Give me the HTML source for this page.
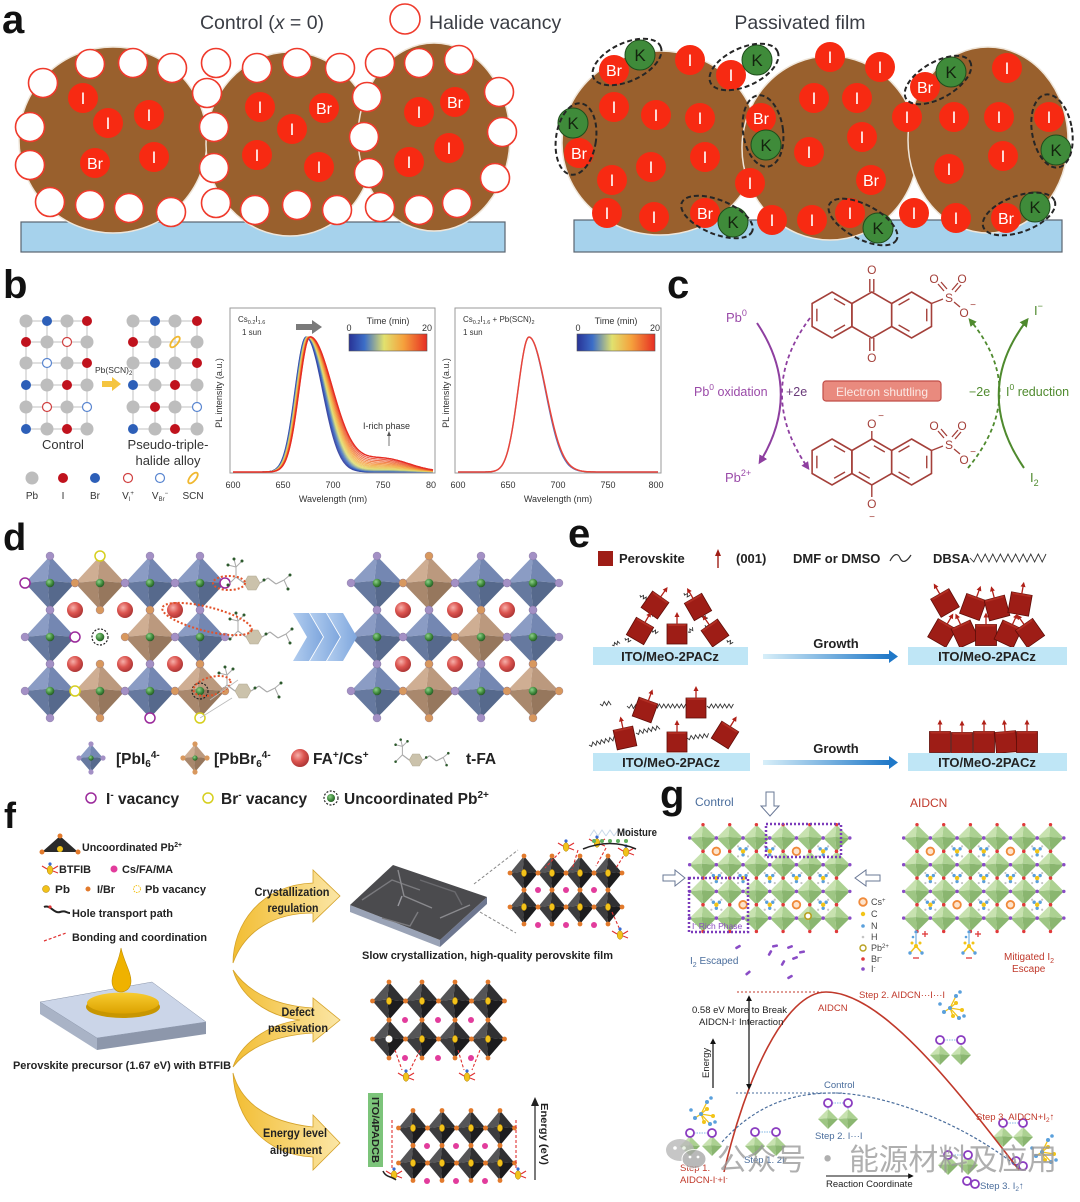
<!DOCTYPE html>
<html><head><meta charset="utf-8"><title>figure</title>
<style>
html,body{margin:0;padding:0;background:#fff;width:1080px;height:1202px;overflow:hidden}
svg{display:block}
text{font-family:"Liberation Sans","Noto Sans CJK SC",sans-serif}
.L{font-size:40px;font-weight:bold;fill:#111}
.vc{fill:#fff;stroke:#ef3a2c;stroke-width:1.6}
.rd{fill:#f72a12}
.kk{fill:#3f8b3a;stroke:#1f4d1c;stroke-width:1}
.at{font-size:17px;fill:#fff;text-anchor:middle}
.ab{font-size:16px;fill:#fff;text-anchor:middle}
.kt{font-size:17px;fill:#14240f;text-anchor:middle}
.de{fill:none;stroke:#262626;stroke-width:2;stroke-dasharray:5,3}
.bt{font-weight:bold;fill:#222}
.mo{font-size:12px;fill:#a4403a;text-anchor:middle}
</style></head>
<body>
<svg id="s" width="1080" height="1202" viewBox="0 0 1080 1202" xmlns="http://www.w3.org/2000/svg">
<defs>
<linearGradient id="cbar" x1="0" x2="1" y1="0" y2="0">
<stop offset="0" stop-color="#283296"/><stop offset="0.2" stop-color="#3c6ec8"/><stop offset="0.45" stop-color="#e1e16e"/><stop offset="0.7" stop-color="#f5a03c"/><stop offset="1" stop-color="#e62d23"/>
</linearGradient>
<radialGradient id="rs" cx="0.38" cy="0.35" r="0.7"><stop offset="0" stop-color="#f6b0aa"/><stop offset="0.5" stop-color="#dc5550"/><stop offset="1" stop-color="#a83232"/></radialGradient>
<radialGradient id="gs" cx="0.38" cy="0.35" r="0.7"><stop offset="0" stop-color="#8fd08a"/><stop offset="0.6" stop-color="#3f8a3c"/><stop offset="1" stop-color="#225522"/></radialGradient>
<linearGradient id="gold" x1="0" x2="1" y1="0" y2="0"><stop offset="0" stop-color="#f2bd32"/><stop offset="1" stop-color="#fbe6a6"/></linearGradient>
<linearGradient id="barw" x1="0" x2="1" y1="0" y2="0"><stop offset="0" stop-color="#d8eff9"/><stop offset="1" stop-color="#1f78c8"/></linearGradient>
<linearGradient id="chev" x1="0" x2="1" y1="0" y2="0"><stop offset="0" stop-color="#b2cdef"/><stop offset="1" stop-color="#7ea6dd"/></linearGradient>
<linearGradient id="pud" x1="0" x2="0" y1="0" y2="1"><stop offset="0" stop-color="#f8cc30"/><stop offset="1" stop-color="#dca200"/></linearGradient>
<marker id="mp" viewBox="0 0 10 10" refX="7" refY="5" markerWidth="4.5" markerHeight="4.5" orient="auto"><path d="M0,0 L10,5 L0,10 z" fill="#8e3fa0"/></marker>
<marker id="mg" viewBox="0 0 10 10" refX="7" refY="5" markerWidth="4.5" markerHeight="4.5" orient="auto"><path d="M0,0 L10,5 L0,10 z" fill="#4f8a2e"/></marker>
<marker id="mk" viewBox="0 0 10 10" refX="7" refY="5" markerWidth="5" markerHeight="5" orient="auto-start-reverse"><path d="M0,0 L10,5 L0,10 z" fill="#111"/></marker>
</defs>

<!-- ================= PANEL A ================= -->
<text x="2" y="33" class="L">a</text>
<text x="262" y="29" font-size="19.5" fill="#3a3d44" text-anchor="middle">Control (<tspan font-style="italic">x</tspan> = 0)</text>
<circle cx="405" cy="19" r="15" class="vc"/>
<text x="429" y="29" font-size="19.5" fill="#3a3d44">Halide vacancy</text>
<text x="800" y="29" font-size="19.5" fill="#3a3d44" text-anchor="middle">Passivated film</text>

<rect x="21" y="222" width="484" height="30" fill="#a6d2ec" stroke="#5a6470" stroke-width="1.2"/>
<g fill="#99602d" stroke="#efe6da" stroke-width="1.5">
<ellipse cx="113" cy="140" rx="94" ry="93"/>
<ellipse cx="290" cy="144" rx="84" ry="92"/>
<ellipse cx="434" cy="137" rx="76" ry="94"/>
</g>
<g class="vcg">
<circle cx="43" cy="83" r="14.5" class="vc"/><circle cx="90" cy="64" r="14.5" class="vc"/><circle cx="133" cy="63" r="14.5" class="vc"/><circle cx="172" cy="68" r="14.5" class="vc"/>
<circle cx="30" cy="127" r="14.5" class="vc"/><circle cx="30" cy="165" r="14.5" class="vc"/><circle cx="50" cy="202" r="14.5" class="vc"/><circle cx="90" cy="205" r="14.5" class="vc"/>
<circle cx="129" cy="208" r="14.5" class="vc"/><circle cx="171" cy="212" r="14.5" class="vc"/><circle cx="207" cy="93" r="14.5" class="vc"/>
<circle cx="216" cy="63" r="14.5" class="vc"/><circle cx="257" cy="68" r="14.5" class="vc"/><circle cx="297" cy="63" r="14.5" class="vc"/><circle cx="340" cy="68" r="14.5" class="vc"/>
<circle cx="214" cy="127" r="14.5" class="vc"/><circle cx="214" cy="168" r="14.5" class="vc"/><circle cx="216" cy="203" r="14.5" class="vc"/><circle cx="255" cy="210" r="14.5" class="vc"/>
<circle cx="297" cy="205" r="14.5" class="vc"/><circle cx="337" cy="210" r="14.5" class="vc"/>
<circle cx="380" cy="63" r="14.5" class="vc"/><circle cx="419" cy="63" r="14.5" class="vc"/><circle cx="459" cy="60" r="14.5" class="vc"/><circle cx="367" cy="97" r="14.5" class="vc"/>
<circle cx="364" cy="137" r="14.5" class="vc"/><circle cx="369" cy="173" r="14.5" class="vc"/><circle cx="380" cy="207" r="14.5" class="vc"/><circle cx="419" cy="210" r="14.5" class="vc"/>
<circle cx="457" cy="203" r="14.5" class="vc"/><circle cx="499" cy="92" r="14.5" class="vc"/><circle cx="502" cy="132" r="14.5" class="vc"/><circle cx="495" cy="178" r="14.5" class="vc"/>
</g>
<g>
<circle cx="83" cy="98" r="15" class="rd"/><text x="83" y="104" class="at">I</text>
<circle cx="108" cy="123" r="15" class="rd"/><text x="108" y="129" class="at">I</text>
<circle cx="149" cy="115" r="15" class="rd"/><text x="149" y="121" class="at">I</text>
<circle cx="95" cy="163" r="15" class="rd"/><text x="95" y="169" class="ab">Br</text>
<circle cx="154" cy="157" r="15" class="rd"/><text x="154" y="163" class="at">I</text>
<circle cx="260" cy="107" r="15" class="rd"/><text x="260" y="113" class="at">I</text>
<circle cx="324" cy="108" r="15" class="rd"/><text x="324" y="114" class="ab">Br</text>
<circle cx="292" cy="129" r="15" class="rd"/><text x="292" y="135" class="at">I</text>
<circle cx="257" cy="155" r="15" class="rd"/><text x="257" y="161" class="at">I</text>
<circle cx="319" cy="167" r="15" class="rd"/><text x="319" y="173" class="at">I</text>
<circle cx="419" cy="112" r="15" class="rd"/><text x="419" y="118" class="at">I</text>
<circle cx="455" cy="102" r="15" class="rd"/><text x="455" y="108" class="ab">Br</text>
<circle cx="449" cy="148" r="15" class="rd"/><text x="449" y="154" class="at">I</text>
<circle cx="409" cy="162" r="15" class="rd"/><text x="409" y="168" class="at">I</text>
</g>

<rect x="574" y="220" width="488" height="32" fill="#a6d2ec" stroke="#5a6470" stroke-width="1.2"/>
<g fill="#99602d" stroke="#efe6da" stroke-width="1.5">
<ellipse cx="660" cy="143" rx="98" ry="92"/>
<ellipse cx="830" cy="148" rx="88" ry="92"/>
<ellipse cx="988" cy="140" rx="80" ry="93"/>
</g>
<g>
<circle cx="614" cy="70" r="15" class="rd"/><text x="614" y="76" class="ab">Br</text>
<circle cx="640" cy="55" r="15" class="kk"/><text x="640" y="61" class="kt">K</text>
<circle cx="690" cy="60" r="15" class="rd"/><text x="690" y="66" class="at">I</text>
<circle cx="731" cy="75" r="15" class="rd"/><text x="731" y="81" class="at">I</text>
<circle cx="757" cy="60" r="15" class="kk"/><text x="757" y="66" class="kt">K</text>
<circle cx="614" cy="107" r="15" class="rd"/><text x="614" y="113" class="at">I</text>
<circle cx="656" cy="115" r="15" class="rd"/><text x="656" y="121" class="at">I</text>
<circle cx="700" cy="118" r="15" class="rd"/><text x="700" y="124" class="at">I</text>
<circle cx="573" cy="123" r="15" class="kk"/><text x="573" y="129" class="kt">K</text>
<circle cx="579" cy="153" r="15" class="rd"/><text x="579" y="159" class="ab">Br</text>
<circle cx="705" cy="157" r="15" class="rd"/><text x="705" y="163" class="at">I</text>
<circle cx="651" cy="167" r="15" class="rd"/><text x="651" y="173" class="at">I</text>
<circle cx="612" cy="180" r="15" class="rd"/><text x="612" y="186" class="at">I</text>
<circle cx="607" cy="213" r="15" class="rd"/><text x="607" y="219" class="at">I</text>
<circle cx="654" cy="217" r="15" class="rd"/><text x="654" y="223" class="at">I</text>
<circle cx="705" cy="213" r="15" class="rd"/><text x="705" y="219" class="ab">Br</text>
<circle cx="733" cy="222" r="15" class="kk"/><text x="733" y="228" class="kt">K</text>
<circle cx="761" cy="118" r="15" class="rd"/><text x="761" y="124" class="ab">Br</text>
<circle cx="766" cy="145" r="15" class="kk"/><text x="766" y="151" class="kt">K</text>
<circle cx="750" cy="183" r="15" class="rd"/><text x="750" y="189" class="at">I</text>
<circle cx="772" cy="220" r="15" class="rd"/><text x="772" y="226" class="at">I</text>
<circle cx="830" cy="57" r="15" class="rd"/><text x="830" y="63" class="at">I</text>
<circle cx="880" cy="67" r="15" class="rd"/><text x="880" y="73" class="at">I</text>
<circle cx="814" cy="98" r="15" class="rd"/><text x="814" y="104" class="at">I</text>
<circle cx="857" cy="98" r="15" class="rd"/><text x="857" y="104" class="at">I</text>
<circle cx="809" cy="152" r="15" class="rd"/><text x="809" y="158" class="at">I</text>
<circle cx="862" cy="137" r="15" class="rd"/><text x="862" y="143" class="at">I</text>
<circle cx="871" cy="180" r="15" class="rd"/><text x="871" y="186" class="ab">Br</text>
<circle cx="812" cy="220" r="15" class="rd"/><text x="812" y="226" class="at">I</text>
<circle cx="850" cy="213" r="15" class="rd"/><text x="850" y="219" class="at">I</text>
<circle cx="878" cy="228" r="15" class="kk"/><text x="878" y="234" class="kt">K</text>
<circle cx="907" cy="117" r="15" class="rd"/><text x="907" y="123" class="at">I</text>
<circle cx="914" cy="213" r="15" class="rd"/><text x="914" y="219" class="at">I</text>
<circle cx="925" cy="87" r="15" class="rd"/><text x="925" y="93" class="ab">Br</text>
<circle cx="951" cy="72" r="15" class="kk"/><text x="951" y="78" class="kt">K</text>
<circle cx="1007" cy="68" r="15" class="rd"/><text x="1007" y="74" class="at">I</text>
<circle cx="954" cy="117" r="15" class="rd"/><text x="954" y="123" class="at">I</text>
<circle cx="999" cy="117" r="15" class="rd"/><text x="999" y="123" class="at">I</text>
<circle cx="1049" cy="117" r="15" class="rd"/><text x="1049" y="123" class="at">I</text>
<circle cx="1056" cy="150" r="15" class="kk"/><text x="1056" y="156" class="kt">K</text>
<circle cx="949" cy="169" r="15" class="rd"/><text x="949" y="175" class="at">I</text>
<circle cx="1003" cy="156" r="15" class="rd"/><text x="1003" y="162" class="at">I</text>
<circle cx="956" cy="218" r="15" class="rd"/><text x="956" y="224" class="at">I</text>
<circle cx="1006" cy="218" r="15" class="rd"/><text x="1006" y="224" class="ab">Br</text>
<circle cx="1035" cy="207" r="15" class="kk"/><text x="1035" y="213" class="kt">K</text>
</g>
<g>
<ellipse cx="627" cy="62" rx="37" ry="19" transform="rotate(-25 627 62)" class="de"/>
<ellipse cx="744" cy="67" rx="37" ry="19" transform="rotate(-25 744 67)" class="de"/>
<ellipse cx="576" cy="139" rx="20" ry="36" transform="rotate(8 576 139)" class="de"/>
<ellipse cx="763" cy="131" rx="20" ry="36" transform="rotate(-8 763 131)" class="de"/>
<ellipse cx="717" cy="217" rx="38" ry="17" transform="rotate(22 717 217)" class="de"/>
<ellipse cx="863" cy="222" rx="38" ry="17" transform="rotate(28 863 222)" class="de"/>
<ellipse cx="938" cy="80" rx="37" ry="18" transform="rotate(-30 938 80)" class="de"/>
<ellipse cx="1052" cy="131" rx="20" ry="37" transform="rotate(-10 1052 131)" class="de"/>
<ellipse cx="1019" cy="214" rx="38" ry="18" transform="rotate(-20 1019 214)" class="de"/>
</g>

<!-- ================= PANEL B ================= -->
<text x="3" y="298" class="L">b</text>
<g id="gb"></g>
<text x="95" y="373" font-size="8.5" fill="#333">Pb(SCN)<tspan font-size="6" dy="2">2</tspan></text>
<text x="63" y="449" font-size="13" fill="#333" text-anchor="middle">Control</text>
<text x="168" y="449" font-size="13" fill="#333" text-anchor="middle">Pseudo-triple-</text>
<text x="168" y="465" font-size="13" fill="#333" text-anchor="middle">halide alloy</text>
<g font-size="10" fill="#333" text-anchor="middle">
<text x="32" y="499">Pb</text><text x="63" y="499">I</text><text x="95" y="499">Br</text>
<text x="128" y="499">V<tspan font-size="6" dy="2">I</tspan><tspan font-size="6" dy="-6">+</tspan></text>
<text x="160" y="499">V<tspan font-size="6" dy="2">Br</tspan><tspan font-size="6" dy="-6">−</tspan></text>
<text x="193" y="499">SCN</text>
</g>
<rect x="230" y="308" width="205" height="165" fill="none" stroke="#9a9a9a" stroke-width="1"/>
<rect x="455" y="308" width="206" height="165" fill="none" stroke="#9a9a9a" stroke-width="1"/>
<g id="gpl"></g>
<g font-size="8" fill="#333">
<text x="238" y="322">Cs<tspan font-size="5.5" dy="2">0.2</tspan><tspan dy="-2">I</tspan><tspan font-size="5.5" dy="2">1.6</tspan></text>
<text x="242" y="335">1 sun</text>
<text x="463" y="322">Cs<tspan font-size="5.5" dy="2">0.2</tspan><tspan dy="-2">I</tspan><tspan font-size="5.5" dy="2">1.6</tspan><tspan dy="-2"> + Pb(SCN)</tspan><tspan font-size="5.5" dy="2">2</tspan></text>
<text x="463" y="335">1 sun</text>
</g>
<path d="M296,324 L312,324 L312,320 L322,327 L312,334 L312,330 L296,330 Z" fill="#7a7a7a"/>
<g font-size="9" fill="#333">
<text x="388" y="324" text-anchor="middle">Time (min)</text>
<text x="349" y="331" text-anchor="middle">0</text><text x="427" y="331" text-anchor="middle">20</text>
<text x="616" y="324" text-anchor="middle">Time (min)</text>
<text x="578" y="331" text-anchor="middle">0</text><text x="655" y="331" text-anchor="middle">20</text>
</g>
<rect x="349" y="334" width="78" height="17" fill="url(#cbar)" stroke="#555" stroke-width="0.6"/>
<rect x="577" y="334" width="78" height="17" fill="url(#cbar)" stroke="#555" stroke-width="0.6"/>
<text x="363" y="429" font-size="9" fill="#333">I-rich phase</text>
<line x1="389" y1="446" x2="389" y2="434" stroke="#555" stroke-width="0.8"/>
<path d="M387,436 L389,431 L391,436 Z" fill="#555"/>
<g font-size="9" fill="#333" text-anchor="middle">
<text x="233" y="488">600</text><text x="283" y="488">650</text><text x="333" y="488">700</text><text x="383" y="488">750</text><text x="431" y="488">80</text>
<text x="458" y="488">600</text><text x="508" y="488">650</text><text x="558" y="488">700</text><text x="608" y="488">750</text><text x="656" y="488">800</text>
<text x="333" y="502">Wavelength (nm)</text><text x="558" y="502">Wavelength (nm)</text>
<text transform="translate(222 393) rotate(-90)">PL intensity (a.u.)</text>
<text transform="translate(449 393) rotate(-90)">PL intensity (a.u.)</text>
</g>

<!-- ================= PANEL C ================= -->
<text x="667" y="298" class="L">c</text>
<g id="gc"></g>
<g class="mo">
<text x="871.8" y="274">O</text>
<text x="871.8" y="362">O</text>
<text x="949" y="302">S</text>
<text x="934" y="283">O</text><text x="962" y="283">O</text>
<text x="964" y="317">O</text><text x="973" y="308" font-size="10">−</text>
<text x="871.8" y="428">O</text><text x="881" y="419" font-size="10">−</text>
<text x="871.8" y="508">O</text><text x="872" y="520" font-size="10">−</text>
<text x="949" y="449">S</text>
<text x="934" y="430">O</text><text x="962" y="430">O</text>
<text x="964" y="464">O</text><text x="973" y="455" font-size="10">−</text>
</g>
<path d="M757,323 Q803,392 760,462" fill="none" stroke="#8e3fa0" stroke-width="2" marker-end="url(#mp)"/>
<path d="M810,318 Q755,392 808,468" fill="none" stroke="#8e3fa0" stroke-width="1.8" stroke-dasharray="4,3" marker-end="url(#mp)"/>
<path d="M968,468 Q1030,392 970,320" fill="none" stroke="#4f8a2e" stroke-width="1.8" stroke-dasharray="4,3" marker-end="url(#mg)"/>
<path d="M1024,468 Q972,392 1027,320" fill="none" stroke="#4f8a2e" stroke-width="2" marker-end="url(#mg)"/>
<g font-size="13">
<text x="726" y="322" fill="#9a4aa8">Pb<tspan font-size="9" dy="-6">0</tspan></text>
<text x="725" y="482" fill="#9a4aa8">Pb<tspan font-size="9" dy="-6">2+</tspan></text>
<text x="694" y="396" fill="#9a4aa8" font-size="12.5">Pb<tspan font-size="8.5" dy="-6">0</tspan><tspan dy="6"> oxidation</tspan></text>
<text x="786" y="396" fill="#6a3a7a" font-size="12.5">+2e</text>
<text x="969" y="396" fill="#4f8a2e" font-size="12.5">−2e</text>
<text x="1006" y="396" fill="#4f8a2e" font-size="12.5">I<tspan font-size="8.5" dy="-6">0</tspan><tspan dy="6"> reduction</tspan></text>
<text x="1034" y="315" fill="#4f8a2e">I<tspan font-size="9" dy="-6">−</tspan></text>
<text x="1030" y="482" fill="#4f8a2e">I<tspan font-size="9" dy="4">2</tspan></text>
</g>
<rect x="823" y="381" width="118" height="20" rx="3" fill="#e98a7e" stroke="#c04e48" stroke-width="1.2"/>
<text x="882" y="396" font-size="12" fill="#fbe9e5" text-anchor="middle">Electron shuttling</text>

<!-- ================= PANEL D ================= -->
<text x="3" y="550" class="L" style="font-size:38px">d</text>
<g id="gd"></g>
<g>
<polygon points="293,613 309,613 323,637 309,661 293,661 307,637" fill="url(#chev)"/>
<polygon points="310,613 326,613 340,637 326,661 310,661 324,637" fill="url(#chev)"/>
<polygon points="327,613 343,613 357,637 343,661 327,661 341,637" fill="url(#chev)"/>
</g>
<g font-size="15.5" class="bt">
<text x="116" y="764">[PbI<tspan font-size="10" dy="3">6</tspan><tspan font-size="10" dy="-9">4-</tspan></text>
<text x="214" y="764">[PbBr<tspan font-size="10" dy="3">6</tspan><tspan font-size="10" dy="-9">4-</tspan></text>
<text x="313" y="764">FA<tspan font-size="10" dy="-6">+</tspan><tspan dy="6">/Cs</tspan><tspan font-size="10" dy="-6">+</tspan></text>
<text x="466" y="764">t-FA</text>
<text x="106" y="804">I<tspan font-size="10" dy="-6">-</tspan><tspan dy="6"> vacancy</tspan></text>
<text x="221" y="804">Br<tspan font-size="10" dy="-6">-</tspan><tspan dy="6"> vacancy</tspan></text>
<text x="344" y="804">Uncoordinated Pb<tspan font-size="10" dy="-6">2+</tspan></text>
</g>

<!-- ================= PANEL E ================= -->
<text x="568" y="547" class="L">e</text>
<rect x="598" y="551" width="15" height="15" fill="#9e1d16"/>
<g font-size="13" class="bt">
<text x="619" y="563">Perovskite</text>
<text x="736" y="563">(001)</text>
<text x="793" y="563">DMF or DMSO</text>
<text x="933" y="563">DBSA</text>
</g>
<line x1="718" y1="568" x2="718" y2="554" stroke="#a01e16" stroke-width="1.4"/>
<path d="M715,556 L718,549 L721,556 Z" fill="#a01e16"/>
<path d="M890,561 C894,553 898,553 900,558 C902,563 906,563 911,555" fill="none" stroke="#333" stroke-width="1.2"/>
<g id="ge"></g>
<rect x="593" y="647" width="155" height="18" fill="#bfe6f6"/>
<rect x="908" y="647" width="159" height="18" fill="#bfe6f6"/>
<rect x="593" y="753" width="157" height="18" fill="#bfe6f6"/>
<rect x="908" y="753" width="159" height="18" fill="#bfe6f6"/>
<g font-size="13" class="bt" text-anchor="middle">
<text x="670" y="661">ITO/MeO-2PACz</text>
<text x="987" y="661">ITO/MeO-2PACz</text>
<text x="671" y="767">ITO/MeO-2PACz</text>
<text x="987" y="767">ITO/MeO-2PACz</text>
<text x="836" y="648">Growth</text>
<text x="836" y="753">Growth</text>
</g>
<rect x="763" y="654" width="127" height="5" fill="url(#barw)"/>
<path d="M889,650 L898,656.5 L889,663 Z" fill="#1f78c8"/>
<rect x="763" y="760" width="127" height="5" fill="url(#barw)"/>
<path d="M889,756 L898,762.5 L889,769 Z" fill="#1f78c8"/>

<!-- ================= PANEL F ================= -->
<text x="4" y="828" class="L" style="font-size:36px">f</text>
<g id="gf"></g>
<g class="bt" font-size="11" fill="#333">
<text x="82" y="851" textLength="100" lengthAdjust="spacingAndGlyphs">Uncoordinated Pb<tspan font-size="7" dy="-4">2+</tspan></text>
<text x="59" y="873" textLength="32" lengthAdjust="spacingAndGlyphs">BTFIB</text>
<text x="122" y="873" textLength="51" lengthAdjust="spacingAndGlyphs">Cs/FA/MA</text>
<text x="55" y="893" textLength="15" lengthAdjust="spacingAndGlyphs">Pb</text>
<text x="97" y="893" textLength="18" lengthAdjust="spacingAndGlyphs">I/Br</text>
<text x="145" y="893" textLength="61" lengthAdjust="spacingAndGlyphs">Pb vacancy</text>
<text x="72" y="917" textLength="101" lengthAdjust="spacingAndGlyphs">Hole transport path</text>
<text x="72" y="941" textLength="135" lengthAdjust="spacingAndGlyphs">Bonding and coordination</text>
<text x="13" y="1069" textLength="218" lengthAdjust="spacingAndGlyphs">Perovskite precursor (1.67 eV) with BTFIB</text>
<text x="362" y="959" textLength="251" lengthAdjust="spacingAndGlyphs">Slow crystallization, high-quality perovskite film</text>
<text x="617" y="836" textLength="40" lengthAdjust="spacingAndGlyphs">Moisture</text>
</g>
<g fill="url(#gold)" stroke="#d4a22a" stroke-width="0.8">
<path d="M233,963 C233,925 260,885 313,883 L313,870 L340,896 L313,922 L313,913 C275,913 245,930 233,963 Z"/>
<path d="M233,970 C250,995 280,1006 313,1008 L313,998 L340,1020 L313,1042 L313,1033 C280,1035 250,1045 233,1067 C240,1045 265,1025 300,1020 C265,1016 240,995 233,970 Z"/>
<path d="M233,1073 C240,1100 265,1122 313,1127 L313,1115 L340,1143 L313,1170 L313,1157 C265,1155 235,1120 233,1073 Z"/>
</g>
<g class="bt" font-size="12" fill="#3a3a3a" text-anchor="middle">
<text x="292" y="896" textLength="75" lengthAdjust="spacingAndGlyphs">Crystallization</text>
<text x="293" y="912" textLength="51" lengthAdjust="spacingAndGlyphs">regulation</text>
<text x="298" y="1016" textLength="33" lengthAdjust="spacingAndGlyphs">Defect</text>
<text x="298" y="1032" textLength="60" lengthAdjust="spacingAndGlyphs">passivation</text>
<text x="295" y="1137" textLength="64" lengthAdjust="spacingAndGlyphs">Energy level</text>
<text x="296" y="1154" textLength="52" lengthAdjust="spacingAndGlyphs">alignment</text>
</g>
<rect x="368" y="1093" width="15" height="74" fill="#7cc47a"/>
<text transform="translate(372 1097) rotate(90)" font-size="10" class="bt" textLength="66" lengthAdjust="spacingAndGlyphs">ITO/4PADCB</text>
<line x1="535" y1="1180" x2="535" y2="1103" stroke="#222" stroke-width="1.2"/>
<path d="M531,1106 L535,1097 L539,1106 Z" fill="#222"/>
<text transform="translate(541 1103) rotate(90)" font-size="10" class="bt" textLength="62" lengthAdjust="spacingAndGlyphs">Energy (eV)</text>

<!-- ================= PANEL G ================= -->
<text x="660" y="808" class="L">g</text>
<text x="695" y="806" font-size="12" fill="#4a6d9c">Control</text>
<text x="910" y="807" font-size="12" fill="#c0392b">AIDCN</text>
<g id="gg"></g>
<g fill="#fff" stroke="#6a7896" stroke-width="1">
<path d="M766,792 L774,792 L774,806 L779,806 L770,816 L761,806 L766,806 Z"/>
<path d="M663,875 L675,875 L675,870 L685,878 L675,886 L675,881 L663,881 Z"/>
<path d="M880,875 L866,875 L866,870 L855,878 L866,886 L866,881 L880,881 Z"/>
</g>
<rect x="766" y="824" width="75" height="33" fill="none" stroke="#7b3bbb" stroke-width="2.5" stroke-dasharray="2,2"/>
<rect x="689" y="878" width="59" height="54" fill="none" stroke="#7b3bbb" stroke-width="2.5" stroke-dasharray="2,2"/>
<text x="692" y="929" font-size="8.5" fill="#8a4ac0">I<tspan font-size="6" dy="-3">-</tspan><tspan dy="3"> Rich Phase</tspan></text>
<g font-size="9" fill="#444">
<text x="871" y="905">Cs<tspan font-size="6" dy="-3">+</tspan></text>
<text x="871" y="917">C</text>
<text x="871" y="929">N</text>
<text x="871" y="940">H</text>
<text x="871" y="951">Pb<tspan font-size="6" dy="-3">2+</tspan></text>
<text x="871" y="962">Br<tspan font-size="6" dy="-3">-</tspan></text>
<text x="871" y="972">I<tspan font-size="6" dy="-3">-</tspan></text>
</g>
<text x="690" y="964" font-size="10" fill="#4a6d9c">I<tspan font-size="7" dy="3">2</tspan><tspan dy="-3"> Escaped</tspan></text>
<text x="1004" y="960" font-size="10" fill="#c0392b">Mitigated I<tspan font-size="7" dy="3">2</tspan></text>
<text x="1012" y="972" font-size="10" fill="#c0392b">Escape</text>
<line x1="737" y1="992" x2="823" y2="992" stroke="#c0392b" stroke-width="1" stroke-dasharray="2,2"/>
<line x1="736" y1="1093" x2="843" y2="1093" stroke="#4a6d9c" stroke-width="1" stroke-dasharray="2,2"/>
<path d="M724,1172 C745,1080 785,992 826,992 C880,992 950,1080 1019,1170" fill="none" stroke="#c0392b" stroke-width="1.6"/>
<path d="M722,1142 C760,1100 800,1093 833,1093 C880,1093 960,1120 1019,1168" fill="none" stroke="#4a6d9c" stroke-width="1.2" stroke-dasharray="3,2"/>
<line x1="749" y1="997" x2="749" y2="1088" stroke="#111" stroke-width="1.2" marker-start="url(#mk)" marker-end="url(#mk)"/>
<line x1="713" y1="1088" x2="713" y2="1040" stroke="#111" stroke-width="1.2" marker-end="url(#mk)"/>
<text transform="translate(709 1078) rotate(-90)" font-size="9.5" fill="#222">Energy</text>
<g font-size="9.5">
<text x="692" y="1013" fill="#222">0.58 eV More to Break</text>
<text x="699" y="1025" fill="#222">AIDCN-I<tspan font-size="6" dy="-3">-</tspan><tspan dy="3"> Interaction</tspan></text>
<text x="818" y="1011" fill="#c0392b">AIDCN</text>
<text x="859" y="998" fill="#c0392b">Step 2. AIDCN···I···I</text>
<text x="824" y="1088" fill="#4a6d9c">Control</text>
<text x="815" y="1139" fill="#4a6d9c">Step 2. I···I</text>
<text x="976" y="1120" fill="#c0392b">Step 3. AIDCN+I<tspan font-size="6.5" dy="2">2</tspan><tspan dy="-2">↑</tspan></text>
<text x="680" y="1171" fill="#c0392b">Step 1.</text>
<text x="680" y="1183" fill="#c0392b">AIDCN-I<tspan font-size="6" dy="-3">-</tspan><tspan dy="3">+I</tspan><tspan font-size="6" dy="-3">-</tspan></text>
<text x="744" y="1163" fill="#4a6d9c">Step 1. 2I<tspan font-size="6" dy="-3">-</tspan></text>
<text x="826" y="1187" fill="#222">Reaction Coordinate</text>
<text x="980" y="1189" fill="#4a6d9c">Step 3. I<tspan font-size="6.5" dy="2">2</tspan><tspan dy="-2">↑</tspan></text>
</g>
<line x1="826" y1="1176" x2="912" y2="1176" stroke="#111" stroke-width="1.1" marker-end="url(#mk)"/>
<g id="gw" opacity="0.8">
<ellipse cx="680" cy="1150" rx="14" ry="11" fill="#b8b8b8"/>
<ellipse cx="694" cy="1159" rx="12" ry="9.5" fill="#a8a8a8" stroke="#fff" stroke-width="1"/>
<circle cx="675" cy="1148" r="1.8" fill="#fff"/><circle cx="684" cy="1148" r="1.8" fill="#fff"/>
<circle cx="690" cy="1157" r="1.4" fill="#fff"/><circle cx="698" cy="1157" r="1.4" fill="#fff"/>
</g>
<text x="717" y="1170" font-size="30" fill="#999" opacity="0.78" textLength="340" lengthAdjust="spacingAndGlyphs" style="font-family:'Noto Sans CJK SC','WenQuanYi Zen Hei',sans-serif">公众号 · 能源材料及应用</text>
</svg>

<script>
(function(){
const NS='http://www.w3.org/2000/svg';
function E(p,t,a){const e=document.createElementNS(NS,t);for(const k in a)e.setAttribute(k,a[k]);p.appendChild(e);return e;}
function G(id){return document.getElementById(id);}
function P(p,pts,fill,stroke,sw){return E(p,'polygon',{points:pts.map(q=>q[0].toFixed(1)+','+q[1].toFixed(1)).join(' '),fill:fill,stroke:stroke||'none','stroke-width':sw||0});}
function C(p,x,y,r,fill,stroke,sw){return E(p,'circle',{cx:x,cy:y,r:r,fill:fill,stroke:stroke||'none','stroke-width':sw||0});}
function Ln(p,x1,y1,x2,y2,st,sw,da){const a={x1:x1,y1:y1,x2:x2,y2:y2,stroke:st,'stroke-width':sw};if(da)a['stroke-dasharray']=da;return E(p,'line',a);}
function octa(p,cx,cy,hx,hy,cols){const T=[cx,cy-hy],R=[cx+hx,cy],B=[cx,cy+hy],L=[cx-hx,cy],M=[cx-hx*0.1,cy-hy*0.08];
 P(p,[L,T,M],cols[0]);P(p,[T,R,M],cols[1]);P(p,[L,B,M],cols[2]);P(p,[B,R,M],cols[3]);}

/* ---- panel b ---- */
try{
const g=G('gb');const ry=[321,342,363,385,407,429];
const lat=[[[26,47,67,87],['gbgr','rgRg','gBgr','bgrg','gRgB','bgrg']],[[133,155,175,197],['gbgr','rgSg','gbgr','bgrg','grgB','bgrg']]];
function atom(c,x,y){
 if(c=='g')C(g,x,y,6.5,'#bdbdbd');
 else if(c=='r')C(g,x,y,5,'#c0121d');
 else if(c=='b')C(g,x,y,5,'#2d5fb8');
 else if(c=='R')C(g,x,y,4.5,'#fff','#d04040',1.2);
 else if(c=='B')C(g,x,y,4.5,'#fff','#5a86d0',1.2);
 else if(c=='S')E(g,'ellipse',{cx:x,cy:y,rx:6.5,ry:3,fill:'none',stroke:'#f0b830','stroke-width':1.8,transform:'rotate(-50 '+x+' '+y+')'});
}
lat.forEach(function(L){const xs=L[0],rows=L[1];
 ry.forEach(y=>Ln(g,xs[0],y,xs[3],y,'#d6d6d6',1.5));
 xs.forEach(x=>Ln(g,x,ry[0],x,ry[5],'#d6d6d6',1.5));
 rows.forEach((r,j)=>{for(let i=0;i<4;i++)atom(r[i],xs[i],ry[j]);});
});
atom('g',32,478);atom('r',63,478);atom('b',95,478);atom('R',128,478);atom('B',160,478);atom('S',193,478);
P(g,[[102,381],[112,381],[112,377],[121,384],[112,391],[112,387],[102,387]],'#f5c540');
const gp=G('gpl');
const cm=[[0,[40,50,150]],[0.2,[60,110,200]],[0.45,[225,225,110]],[0.7,[245,160,60]],[1,[230,45,35]]];
function cmap(t){for(let i=0;i<cm.length-1;i++){const a=cm[i][0],ca=cm[i][1],b=cm[i+1][0],cb=cm[i+1][1];if(t<=b){const u=(t-a)/(b-a);return 'rgb('+ca.map((v,k)=>Math.round(v+(cb[k]-v)*u)).join(',')+')';}}return 'rgb(230,45,35)';}
function pl(x0,pk,sL,sR,ta,col,w,op){let d='';for(let nm=600;nm<=800;nm+=1){const s=nm<pk?sL:sR;let v=Math.exp(-((nm-pk)*(nm-pk))/(2*s*s));if(nm>pk)v+=ta*Math.exp(-((nm-750)*(nm-750))/(2*26*26));const x=x0+(nm-600)*1.0,y=472-v*135;d+=(d?'L':'M')+x.toFixed(1)+' '+y.toFixed(1);}E(gp,'path',{d:d,fill:'none',stroke:col,'stroke-width':w,'stroke-opacity':op});}
for(let k=0;k<=18;k++){const t=k/18;pl(233,673+4*t,11,16.5+6*t,0.1*t*t,cmap(t),1.1,0.85);}
pl(233,677,11,22.5,0.1,'#e62d23',1.4,1);
pl(458,671,11,16.3,0,'#5470c0',1.2,1);
pl(458,671,11,16.8,0,'#e8453a',1.5,1);
}catch(e){}

/* ---- panel c ---- */
try{
const g=G('gc');const col='#a4403a';
function ring(cx,cy,r,dbl){const v=[];for(let k=0;k<6;k++){const a=(-90+60*k)*Math.PI/180;v.push([cx+r*Math.cos(a),cy+r*Math.sin(a)]);}
 P(g,v,'none',col,1.6);
 dbl.forEach(function(i){const p=v[i],q=v[(i+1)%6],s=0.76;const A=[cx+s*(p[0]-cx),cy+s*(p[1]-cy)],B=[cx+s*(q[0]-cx),cy+s*(q[1]-cy)];const t=0.14;
  Ln(g,A[0]+(B[0]-A[0])*t,A[1]+(B[1]-A[1])*t,B[0]+(A[0]-B[0])*t,B[1]+(A[1]-B[1])*t,col,1.4);});}
[[315,'top'],[462,'bot']].forEach(function(m){const cy=m[0];
 ring(832,cy,23,[4,0,2]);ring(871.8,cy,23,m[1]=='bot'?[0,3]:[]);ring(911.6,cy,23,[1,3,5]);
 if(m[1]=='top'){Ln(g,869.8,292,869.8,279,col,1.4);Ln(g,873.8,292,873.8,279,col,1.4);Ln(g,869.8,338,869.8,351,col,1.4);Ln(g,873.8,338,873.8,351,col,1.4);}
 else{Ln(g,871.8,439,871.8,431,col,1.4);Ln(g,871.8,485,871.8,497,col,1.4);}
 const o=cy-315;
 Ln(g,931.5,303.5+o,943,299+o,col,1.4);
 Ln(g,944,291+o,938,284+o,col,1.3);Ln(g,947,289+o,941,282+o,col,1.3);
 Ln(g,952,290+o,958,283+o,col,1.3);Ln(g,955,292+o,961,285+o,col,1.3);
 Ln(g,954,302+o,960,307+o,col,1.3);
});
}catch(e){}

/* ---- panel d ---- */
try{
const g=G('gd');
const BL=['#8b9cc4','#7487b2','#66799f','#56698c'],BR=['#cfae93','#bb997e','#a9886d','#96775d'];
const PU='#a390c5',OR='#d8985e';
function lattice(xs,ys,hx,hy,pat,cav){const balls=[];
 pat.forEach((row,j)=>{for(let i=0;i<xs.length;i++){const t=row[i];if(t=='-')continue;octa(g,xs[i],ys[j],hx,hy,t=='B'?BL:BR);}});
 cav.forEach(c=>C(g,c[0],c[1],8,'url(#rs)'));
 pat.forEach((row,j)=>{for(let i=0;i<xs.length;i++){const t=row[i];if(t=='-')continue;const cx=xs[i],cy=ys[j],cl=t=='B'?PU:OR;[[cx,cy-hy],[cx+hx,cy],[cx,cy+hy],[cx-hx,cy]].forEach(v=>balls.push([v[0],v[1],cl]));C(g,cx,cy,4.3,'url(#gs)');}});
 balls.forEach(b=>{C(g,b[0],b[1],4,b[2],'#7a6a90',0.3);});
}
const ys=[583,637,691];
lattice([50,100,150,200],ys,25,27,['BRBB','B-RB','BRBR'],[[75,610],[125,610],[175,610],[75,664],[125,664],[175,664]]);
lattice([377,429,481,533],ys,26,27,['BRBB','BBRB','BRBR'],[[403,610],[455,610],[507,610],[403,664],[455,664],[507,664]]);
[[25,583],[75,637],[225,583],[150,718]].forEach(v=>C(g,v[0],v[1],5,'#fff','#9b2a9b',1.5));
[[100,556],[75,691],[200,718]].forEach(v=>C(g,v[0],v[1],5,'#fff','#d6cf1e',1.5));
C(g,100,637,4.3,'url(#gs)');
E(g,'circle',{cx:100,cy:637,r:8,fill:'none',stroke:'#222','stroke-width':1.2,'stroke-dasharray':'2,1.5'});
E(g,'circle',{cx:200,cy:691,r:8,fill:'none',stroke:'#222','stroke-width':1.2,'stroke-dasharray':'2,1.5'});
function tfa(x,y,s){s=s||1;const hv=[];for(let k=0;k<6;k++){const a=(60*k)*Math.PI/180;hv.push([x+8*s*Math.cos(a),y+8*s*Math.sin(a)]);}
 const st='#aaa';
 Ln(g,x+8*s,y,x+16*s,y-5*s,st,1.2);Ln(g,x+16*s,y-5*s,x+24*s,y+1*s,st,1.2);Ln(g,x+24*s,y+1*s,x+32*s,y-3*s,st,1.2);
 Ln(g,x+32*s,y-3*s,x+36*s,y+6*s,st,1);Ln(g,x+32*s,y-3*s,x+38*s,y-8*s,st,1);
 Ln(g,x-8*s,y,x-16*s,y-6*s,st,1.2);Ln(g,x-16*s,y-6*s,x-16*s,y-16*s,st,1);Ln(g,x-16*s,y-16*s,x-24*s,y-18*s,st,1);Ln(g,x-16*s,y-16*s,x-10*s,y-22*s,st,1);Ln(g,x-16*s,y-16*s,x-18*s,y-24*s,st,1);
 Ln(g,x-16*s,y-6*s,x-24*s,y+2*s,st,1);
 P(g,hv,'#cbc2ab','#b5ac95',0.6);
 [[x+36*s,y+6*s],[x+38*s,y-8*s],[x-24*s,y-18*s],[x-10*s,y-22*s],[x-18*s,y-24*s],[x-24*s,y+2*s],[x+12*s,y-3*s]].forEach(p=>C(g,p[0],p[1],1.5*s,'#2d5a2d'));
}
tfa(252,583);tfa(254,637);tfa(243,691);
E(g,'ellipse',{cx:229,cy:583,rx:16,ry:7,fill:'none',stroke:'#e2522a','stroke-width':2,'stroke-dasharray':'2,2'});
E(g,'ellipse',{cx:207,cy:619,rx:46,ry:12,transform:'rotate(14 207 619)',fill:'none',stroke:'#e2522a','stroke-width':2,'stroke-dasharray':'2,2'});
E(g,'ellipse',{cx:212,cy:686,rx:19,ry:9,transform:'rotate(-15 212 686)',fill:'none',stroke:'#e2522a','stroke-width':2,'stroke-dasharray':'2,2'});
Ln(g,210,700,238,680,'#bbb',0.8);Ln(g,200,718,232,698,'#bbb',0.8);
function lo(x,y,cols,bc){octa(g,x,y,12,14,cols);[[x,y-14],[x+12,y],[x,y+14],[x-12,y]].forEach(v=>C(g,v[0],v[1],2.6,bc));C(g,x,y,2.6,'url(#gs)');}
lo(91,758,BL,PU);lo(195,758,BR,OR);C(g,300,758,9,'url(#rs)');
tfa(416,760,0.85);
C(g,91,798,5,'#fff','#9b2a9b',1.5);C(g,208,798,5,'#fff','#d6cf1e',1.5);
C(g,331,798,4,'url(#gs)');E(g,'circle',{cx:331,cy:798,r:7,fill:'none',stroke:'#222','stroke-width':1.2,'stroke-dasharray':'2,1.5'});
}catch(e){}

/* ---- panel e ---- */
try{
const g=G('ge');
function zig(x1,y1,x2,y2,amp,step){const dx=x2-x1,dy=y2-y1,L=Math.hypot(dx,dy),ux=dx/L,uy=dy/L,nx=-uy,ny=ux;let d='M'+x1+' '+y1;let k=0;for(let s=step;s<=L;s+=step){k++;const a=(k%2?amp:-amp);d+=' L'+(x1+ux*s+nx*a).toFixed(1)+' '+(y1+uy*s+ny*a).toFixed(1);}E(g,'path',{d:d,fill:'none',stroke:'#333','stroke-width':0.9});}
zig(970,558,1046,558,4,3.8);
function sq(cx,cy,rot,s){const q=E(g,'g',{transform:'translate('+cx+','+cy+') rotate('+rot+')'});
 E(q,'rect',{x:-s/2,y:-s/2,width:s,height:s,fill:'#9e1d16',stroke:'#5e0d08','stroke-width':0.8});
 E(q,'path',{d:'M'+(-s/2)+' '+(-s/2)+' L'+(s/2)+' '+(-s/2)+' L'+(s/2-2)+' '+(-s/2+2)+' L'+(-s/2+2)+' '+(-s/2+2)+'Z',fill:'#c0392b',opacity:0.6});
 E(q,'line',{x1:0,y1:-s/2,x2:0,y2:-s/2-9,stroke:'#b02018','stroke-width':1.3});
 E(q,'path',{d:'M-2.5 '+(-s/2-7)+' L0 '+(-s/2-12)+' L2.5 '+(-s/2-7)+'Z',fill:'#b02018'});}
[[640,595,648,600],[650,612,656,617],[684,593,690,597],[702,615,708,620],[625,638,631,642],[652,630,658,633],[670,633,676,630],[688,632,694,628],[705,625,711,628],[727,640,733,644],[612,645,620,642]].forEach(z=>zig(z[0],z[1],z[2],z[3],1.5,1.6));
sq(655,605,35,20);sq(698,607,-30,20);sq(640,631,30,20);sq(677,634,0,20);sq(715,633,-35,20);
sq(945,603,-30,21);sq(973,607,20,21);sq(997,608,-15,21);sq(1020,604,10,21);
sq(942,633,30,21);sq(965,634,-25,21);sq(986,635,0,21);sq(1008,634,25,21);sq(1030,633,-35,21);
[[589,745,616,738],[636,733,661,727],[687,738,711,735],[627,706,641,707],[655,706,687,706],[707,706,735,706],[600,704,612,703]].forEach(z=>zig(z[0],z[1],z[2],z[3],2,2.2));
sq(645,710,20,20);sq(696,708,0,20);sq(625,738,-12,20);sq(677,742,0,20);sq(725,735,32,20);
sq(940,742,0,21);sq(962,743,0,21);sq(984,742,0,21);sq(1006,742,-5,21);sq(1027,742,0,21);
}catch(e){}

/* ---- panel f ---- */
try{
const g=G('gf');
const DK=['#555557','#303032','#3c3c3e','#1c1c1e'];
function flat(xs,ys,hx,hy,pink){xs.forEach(x=>ys.forEach(y=>octa(g,x,y,hx,hy,DK)));
 xs.forEach(x=>ys.forEach(y=>{[[x,y-hy],[x+hx,y],[x,y+hy],[x-hx,y]].forEach(v=>C(g,v[0],v[1],2.4,'#e27a2c'));E(g,'ellipse',{cx:x,cy:y,rx:2.6,ry:3.6,fill:'#f2c21a',stroke:'#b08000','stroke-width':0.4});}));
 pink.forEach(p=>C(g,p[0],p[1],3,'#e23c9c'));}
function btf(x,y){Ln(g,x-3,y-1,x-8,y-4,'#e03030',1.2);Ln(g,x+3,y-1,x+8,y-4,'#e03030',1.2);Ln(g,x+3,y+1,x+8,y+3,'#e03030',1);
 E(g,'ellipse',{cx:x,cy:y,rx:2.8,ry:4.3,fill:'#f2c21a',stroke:'#a87a00','stroke-width':0.5});C(g,x,y-6,1.6,'#3a6ad0');}
P(g,[[40,1002],[97,1038],[97,1050],[40,1014]],'#a9b3c6');
P(g,[[97,1038],[206,1022],[206,1034],[97,1050]],'#8d97ab');
P(g,[[40,1002],[152,982],[206,1022],[97,1038]],'#cbd5e8','#8a95aa',0.5);
E(g,'ellipse',{cx:123,cy:1007,rx:37,ry:11,fill:'#c89600'});
E(g,'ellipse',{cx:123,cy:1003,rx:36,ry:10.5,fill:'url(#pud)'});
E(g,'path',{d:'M121,948 C124,962 131,972 131,981 C131,988 126,992 121,992 C116,992 112,988 112,981 C112,972 119,962 121,948 Z',fill:'#efb200',stroke:'#c08e00','stroke-width':0.6});
P(g,[[42,852],[60,836],[78,852]],'#2a2a2a');[[42,852],[60,836],[78,852]].forEach(v=>C(g,v[0],v[1],2.5,'#e27a2c'));C(g,60,849,3,'#f2c21a');
btf(50,870);C(g,114,869,3.5,'#e23c9c');
C(g,46,889,3.5,'#f2c21a','#a87a00',0.5);C(g,88,889,2.5,'#e27a2c');E(g,'circle',{cx:137,cy:889,r:3.5,fill:'none',stroke:'#f2c21a','stroke-width':1,'stroke-dasharray':'1.5,1'});
E(g,'path',{d:'M44,907 C50,904 54,914 60,912 S66,913 70,913',fill:'none',stroke:'#222','stroke-width':2});C(g,50,907,1.6,'#e03030');
Ln(g,44,941,66,933,'#e03030',1.2,'3,2');
P(g,[[350,905],[440,940],[440,947],[350,912]],'#9aa3b6');
P(g,[[440,940],[487,897],[487,904],[440,947]],'#6e7790');
P(g,[[350,905],[393,865],[487,897],[440,940]],'#4b4b4e');
[['M362,900 L392,880 L420,890','#7a7a7e'],['M398,870 L404,896 L432,908','#8a8a8e'],['M440,918 L470,905','#8a8a8e'],['M382,918 L410,926 L418,912','#7a7a7e'],['M420,880 L455,892 L462,905','#6a6a6e'],['M402,896 L398,906','#9a9aa0']].forEach(s=>E(g,'path',{d:s[0],fill:'none',stroke:s[1],'stroke-width':1.4}));
Ln(g,474,884,518,850,'#888',1,'3,2');Ln(g,480,912,516,933,'#888',1,'3,2');
flat([524,552,580,608],[873,907],14,17,[[538,890],[566,890],[594,890],[538,925],[566,925],[594,925]]);
flat([389,422,455,488],[1001,1039],16.5,19,[[405,1020],[438,1020],[471,1020],[405,1058],[438,1058],[471,1058]]);
flat([413,442,471,500],[1128,1163],14.5,17.5,[[427,1146],[456,1146],[485,1146],[427,1181],[456,1181],[485,1181]]);
C(g,389,1039,3.5,'#fff');
[[560,852,545,868],[578,850,572,870],[606,848,596,866],[626,852,616,868],[612,912,620,930],[395,1050,402,1070],[420,1050,410,1070],[458,1050,464,1070],[480,1050,472,1070],[392,1120,392,1170],[516,1120,516,1170]].forEach(l=>Ln(g,l[0],l[1],l[2],l[3],'#e03030',1.1,'3,2'));
btf(566,847);btf(597,843);btf(626,852);btf(620,935);btf(406,1077);btf(467,1077);btf(394,1175);btf(518,1175);
for(let i=0;i<5;i++){const x=594+i*8;C(g,x,841,2,'#5fb05f');E(g,'path',{d:'M'+(x-4)+',836 L'+x+',830 L'+(x+4)+',836',fill:'none',stroke:'#c8d8e8','stroke-width':1});}
E(g,'path',{d:'M583,849 Q610,838 636,849',fill:'none',stroke:'#222','stroke-width':1.5});
E(g,'path',{d:'M383,1171 C386,1178 392,1176 396,1180',fill:'none',stroke:'#222','stroke-width':1.5});
}catch(e){}

/* ---- panel g ---- */
try{
const g=G('gg');
const GR=['#c8e2b0','#acd192','#9ec684','#8ab670'];
function cs(x,y){C(g,x,y,3.8,'#fde3cc','#f08a3a',1.8);}
function fa(x,y){[[-5,-5],[5,-5],[-5,5],[5,5]].forEach(d=>C(g,x+d[0],y+d[1],1.1,'#c4c4c4'));[[-3,-2.5],[3,-2.5],[0,3.5]].forEach(d=>C(g,x+d[0],y+d[1],1.7,'#5aa0dc'));C(g,x,y,2.2,'#f2c418');}
function glat(x0,y0,cav){const h=13.35,s=26.7;
 for(let j=0;j<4;j++)for(let i=0;i<6;i++)octa(g,x0+i*s,y0+j*s,h,h,GR);
 for(let j=0;j<4;j++)for(let i=0;i<6;i++){const cx=x0+i*s,cy=y0+j*s;C(g,cx,cy-h,1.7,'#e03a3a');C(g,cx,cy+h,1.7,'#e03a3a');C(g,cx-h,cy,1.7,'#8a4cc6');C(g,cx+h,cy,1.7,'#8a4cc6');}
 cav.forEach((row,j)=>{for(let i=0;i<5;i++){const x=x0+h+i*s,y=y0+h+j*s;if(row[i]=='o')cs(x,y);else fa(x,y);}});}
glat(703,838,['offof','fffff','fofof']);
glat(917,838,['offof','fffff','fofof']);
C(g,808,916,3.2,'#fff','#b8a020',1.6);
cs(863,902);C(g,863,914,2.2,'#f2c418');C(g,863,926,1.8,'#5aa0dc');C(g,863,937,1.3,'#c4c4c4');C(g,863,948,3,'#fff','#b8a020',1.4);C(g,863,959,1.8,'#e03a3a');C(g,863,969,1.8,'#8a4cc6');
[[738,947,60],[770,953,30],[775,946,80],[790,947,70],[802,952,80],[783,963,30],[795,958,70],[748,973,50],[790,977,60]].forEach(d=>E(g,'rect',{x:d[0]-1.3,y:d[1]-3,width:2.6,height:6,rx:1,fill:'#8a4cc6',transform:'rotate('+d[2]+' '+d[0]+' '+d[1]+')'}));
function mol(x,y){Ln(g,x,y-8,x,y+4,'#5aa0dc',1);Ln(g,x,y+4,x-6,y+11,'#f2c418',1.5);Ln(g,x,y+4,x+6,y+11,'#f2c418',1.5);C(g,x,y-10,1.6,'#5aa0dc');C(g,x-3,y-5,1.3,'#5aa0dc');C(g,x,y+4,2,'#f2c418');C(g,x-6,y+11,1.7,'#5aa0dc');C(g,x+6,y+11,1.7,'#5aa0dc');C(g,x-4,y+1,1.5,'#f2c418');C(g,x+4,y+1,1.5,'#f2c418');}
mol(916,942);mol(969,942);
Ln(g,922,934,928,934,'#e03a3a',1.3);Ln(g,925,931,925,937,'#e03a3a',1.3);Ln(g,913,958,919,958,'#e03a3a',1.3);
Ln(g,975,934,981,934,'#e03a3a',1.3);Ln(g,978,931,978,937,'#e03a3a',1.3);Ln(g,966,958,972,958,'#e03a3a',1.3);
function pair(x1,x2,y,ry){octa(g,x1,y,10,10,GR);octa(g,x2,y,10,10,GR);Ln(g,x1,y-10,x1,ry,'#5aa0dc',0.8,'1.5,1');Ln(g,x2,y-10,x2,ry,'#5aa0dc',0.8,'1.5,1');
 Ln(g,x1+4,ry,x2-4,ry,'#5aa0dc',0.8,'1.5,1');C(g,x1,ry,4,'#fff','#8a3cc0',1.8);C(g,x2,ry,4,'#fff','#8a3cc0',1.8);}
pair(940,961,1055,1040);pair(828,848,1119,1103);pair(690,712,1146,1133);pair(755,776,1146,1132);pair(1003,1023,1137,1123);pair(948,968,1165,1155);
C(g,967,1181,4,'#fff','#8a3cc0',1.8);C(g,975,1184,4,'#fff','#8a3cc0',1.8);
C(g,1016,1161,4,'#fff','#8a3cc0',1.8);C(g,1023,1166,4,'#fff','#8a3cc0',1.8);
function bigmol(x,y){const pts=[[0,0],[6,-5],[6,-12],[12,2],[-6,4],[3,8],[9,10]];pts.forEach((p,i)=>{if(i)Ln(g,x,y,x+p[0],y+p[1],'#f2c418',1.3);});pts.forEach((p,i)=>C(g,x+p[0],y+p[1],2,i%2?'#f2c418':'#5aa0dc'));C(g,x+10,y-16,1.8,'#5aa0dc');C(g,x-10,y-4,1.8,'#5aa0dc');C(g,x+14,y+8,1.8,'#5aa0dc');}
bigmol(950,1008);bigmol(701,1114);bigmol(1042,1152);
}catch(e){}
})();
</script>
</body></html>
